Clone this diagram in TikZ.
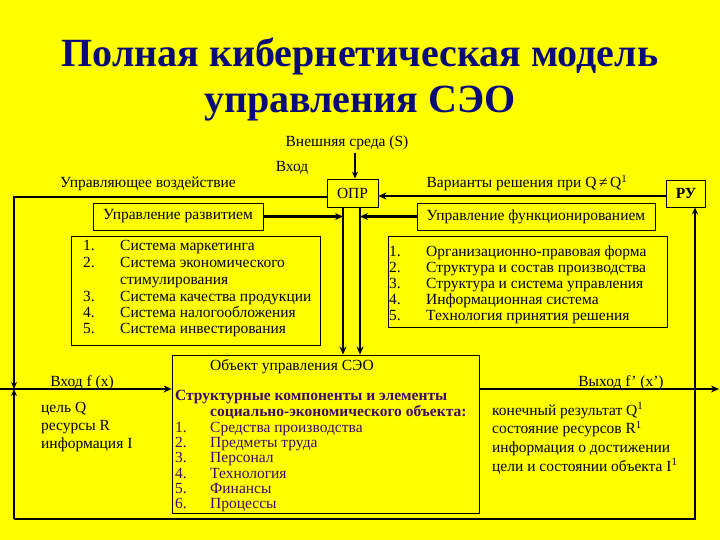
\documentclass[tikz,border=0pt]{standalone}
\usepackage{fontspec}
\setmainfont{Liberation Serif}
\usetikzlibrary{arrows.meta}
\definecolor{bgyel}{RGB}{255,255,0}
\definecolor{titleblue}{RGB}{10,10,120}
\definecolor{objpurple}{RGB}{60,10,100}
\begin{document}
\begin{tikzpicture}[x=1pt,y=-1pt,
  txt/.style={inner sep=0pt, anchor=base, font=\fontsize{15.5}{17}\selectfont},
  lbl/.style={txt, anchor=base west},
  ttl/.style={inner sep=0pt, anchor=base, text=titleblue, font=\fontsize{40}{44}\selectfont\bfseries},
  box/.style={draw, line width=0.8pt, inner sep=0pt, font=\fontsize{15.5}{17}\selectfont},
  bigarrow/.style={line width=2.4pt, -{Stealth[length=8pt,width=7pt]}},
  midarrow/.style={line width=1.6pt, -{Stealth[length=7pt,width=6pt]}},
  thinline/.style={line width=1.4pt},
  purp/.style={lbl, text=objpurple},
  purpb/.style={lbl, text=objpurple, font=\fontsize{15.5}{17}\selectfont\bfseries}]
\fill[bgyel] (0,0) rectangle (720,540);
\useasboundingbox (0,0) rectangle (720,540);

% title
\node[ttl] (t1) at (360,67) {Полная кибернетическая модель};
\node[ttl] (t2) at (360,113) {управления СЭО};

% top labels
\node[txt] (ext) at (347,147) {Внешняя среда (S)};
\node[txt] (vhod) at (292,172) {Вход};
\node[txt] (upv) at (148,188) {Управляющее воздействие};
\node[txt] (var) at (527,188) {Варианты решения при Q\,≠\,Q\textsuperscript{1}};

% boxes
\node[box, minimum width=51pt, minimum height=28pt] (opr) at (352.5,193) {ОПР};
\node[box, minimum width=39pt, minimum height=27pt, font=\fontsize{15.5}{17}\selectfont\bfseries] (ru) at (686,193.5) {РУ};
\node[box, minimum width=170pt, minimum height=27pt] (razv) at (178,216.5) {Управление развитием};
\node[box, minimum width=238pt, minimum height=27pt] (func) at (536,216.5) {Управление функционированием};
\node[box, minimum width=249pt, minimum height=109pt] (listL) at (195.5,290.5) {};
\node[box, minimum width=279pt, minimum height=91pt] (listR) at (527.5,281.5) {};
\node[box, minimum width=307pt, minimum height=158pt] (obj) at (325.5,434) {};

% left list
\node[lbl] (l1n) at (83,251) {1.};
\node[lbl] (l1) at (120,251) {Система маркетинга};
\node[lbl] (l2n) at (83,267.5) {2.};
\node[lbl] (l2) at (120,267.5) {Система экономического};
\node[lbl] (l2b) at (120,284) {стимулирования};
\node[lbl] (l3n) at (83,301) {3.};
\node[lbl] (l3) at (120,301) {Система качества продукции};
\node[lbl] (l4n) at (83,317) {4.};
\node[lbl] (l4) at (120,317) {Система налогообложения};
\node[lbl] (l5n) at (83,333) {5.};
\node[lbl] (l5) at (120,333) {Система инвестирования};

% right list
\node[lbl] (r1n) at (389,256) {1.};
\node[lbl] (r1) at (426,256) {Организационно-правовая форма};
\node[lbl] (r2n) at (389,272) {2.};
\node[lbl] (r2) at (426,272) {Структура и состав производства};
\node[lbl] (r3n) at (389,288) {3.};
\node[lbl] (r3) at (426,288) {Структура и система управления};
\node[lbl] (r4n) at (389,304) {4.};
\node[lbl] (r4) at (426,304) {Информационная система};
\node[lbl] (r5n) at (389,320) {5.};
\node[lbl] (r5) at (426,320) {Технология принятия решения};

% object box text
\node[lbl] (ot) at (210,370) {Объект управления СЭО};
\node[purpb] (ob1) at (175,400) {Структурные компоненты и элементы};
\node[purpb] (ob2) at (210,416) {социально-экономического объекта:};
\node[purp] (o1n) at (175,432) {1.};
\node[purp] (o1) at (210,432) {Средства производства};
\node[purp] (o2n) at (175,447) {2.};
\node[purp] (o2) at (210,447) {Предметы труда};
\node[purp] (o3n) at (175,462.5) {3.};
\node[purp] (o3) at (210,462.5) {Персонал};
\node[purp] (o4n) at (175,478) {4.};
\node[purp] (o4) at (210,478) {Технология};
\node[purp] (o5n) at (175,493) {5.};
\node[purp] (o5) at (210,493) {Финансы};
\node[purp] (o6n) at (175,508.5) {6.};
\node[purp] (o6) at (210,508.5) {Процессы};

% input/output labels
\node[txt] (inlbl) at (82,386) {Вход f (x)};
\node[txt] (outlbl) at (621,386) {Выход f' (x')};
\node[lbl] (q) at (41,412) {цель Q};
\node[lbl] (r) at (41,430) {ресурсы R};
\node[lbl] (i) at (41,448.5) {информация I};
\node[lbl] (q1) at (492,415) {конечный результат Q\textsuperscript{1}};
\node[lbl] (r1x) at (492,433.5) {состояние ресурсов R\textsuperscript{1}};
\node[lbl] (i1) at (492,452.5) {информация о достижении};
\node[lbl] (i1b) at (492,471) {цели и состоянии объекта I\textsuperscript{1}};

% coordinates
\coordinate (extc) at (355,153);
\coordinate (vl) at (343,0);
\coordinate (vr) at (360,0);
\coordinate (jn) at (14,389);
\coordinate (bl) at (14,519);
\coordinate (br) at (695,519);
\coordinate (inL) at (0,389);
\coordinate (outR) at (719,389);

% connectors
\draw[midarrow] (extc) -- (extc |- opr.north);
\draw[bigarrow] (vl |- opr.south) -- (vl |- obj.north);
\draw[bigarrow] (vr |- opr.south) -- (vr |- obj.north);
\draw[bigarrow] (razv.east) -- (vl |- razv.east);
\draw[bigarrow] (func.west) -- (vr |- func.west);
\draw[bigarrow] (ru.west |- 0,196) -- (opr.east |- 0,196);
\draw[thinline, -{Stealth[length=7pt,width=6pt]}] (opr.west |- 0,197) -| (jn);
\draw[thinline, -{Stealth[length=7pt,width=6pt]}] (bl) -- (jn);
\draw[thinline, -{Stealth[length=7pt,width=6pt]}] (bl) -- (br) -- (br |- ru.south);
\draw[bigarrow] (inL) -- (inL -| obj.west);
\draw[bigarrow] (obj.east |- outR) -- (outR);
\end{tikzpicture}
\end{document}
